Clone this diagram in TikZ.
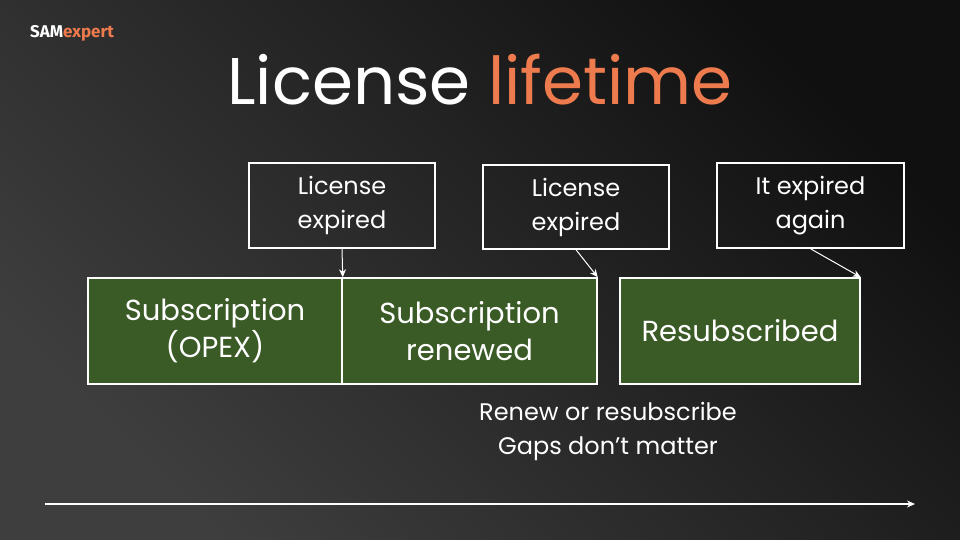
\documentclass[tikz,border=0pt]{standalone}
\usepackage{fontspec}
\setmainfont{Poppins}
\newfontfamily\logofont{Fira Sans}
\usetikzlibrary{arrows.meta}
\definecolor{accent}{HTML}{EE7B4E}
\definecolor{boxgreen}{HTML}{3A5A26}
\definecolor{bgtop}{HTML}{3E3E3E}
\definecolor{bgbot}{HTML}{101010}
\tikzset{
  phase/.style={draw=white, line width=1.5pt, fill=boxgreen, text=white, inner sep=0pt, font=\fontsize{29}{37}\selectfont, align=center},
  event/.style={draw=white, line width=1.5pt, text=white, inner sep=0pt, font=\fontsize{24}{34}\selectfont, align=center},
  pointer/.style={-{Stealth[length=8pt,width=7pt]}, white, line width=1pt}
}
\begin{document}
\begin{tikzpicture}[x=1pt,y=-1pt]
  \shade[left color=bgtop, right color=bgbot, shading angle=135] (0,0) rectangle (960,540);
  \useasboundingbox (0,0) rectangle (960,540);
  % logo and title
  \node[anchor=west, inner sep=0pt, font=\logofont\bfseries\fontsize{17}{17}\selectfont] (logo) at (30,33)
    {\textcolor{white}{SAM}\textcolor{accent}{expert}};
  \node[text=white, font=\fontsize{66}{70}\selectfont] (title) at (480,80) {License \textcolor{accent}{lifetime}};
  % phases
  \node[phase, minimum width=254pt, minimum height=106pt] (sub) at (215,331) {Subscription\\(OPEX)};
  \node[phase, minimum width=255pt, minimum height=106pt] (renew) at (469.5,331) {Subscription\\renewed};
  \node[phase, minimum width=240pt, minimum height=106pt] (resub) at (740,331) {Resubscribed};
  % events
  \node[event, minimum width=186pt, minimum height=85pt] (exp1) at (342,205.5) {License\\expired};
  \node[event, minimum width=186pt, minimum height=84pt] (exp2) at (576,207) {License\\expired};
  \node[event, minimum width=187pt, minimum height=85pt] (exp3) at (810.5,205.5) {It expired\\again};
  \draw[pointer] (exp1.south) -- (sub.north east);
  \draw[pointer] (exp2.south) -- (renew.north east);
  \draw[pointer] (exp3.south) -- (resub.north east);
  % note and timeline
  \node[text=white, align=center, font=\fontsize{24}{34}\selectfont] (note) at (608,431) {Renew or resubscribe\\Gaps don’t matter};
  \coordinate (t0) at (45,504);
  \coordinate (t1) at (915,504);
  \draw[pointer, line width=1.5pt] (t0) -- (t1);
\end{tikzpicture}
\end{document}
